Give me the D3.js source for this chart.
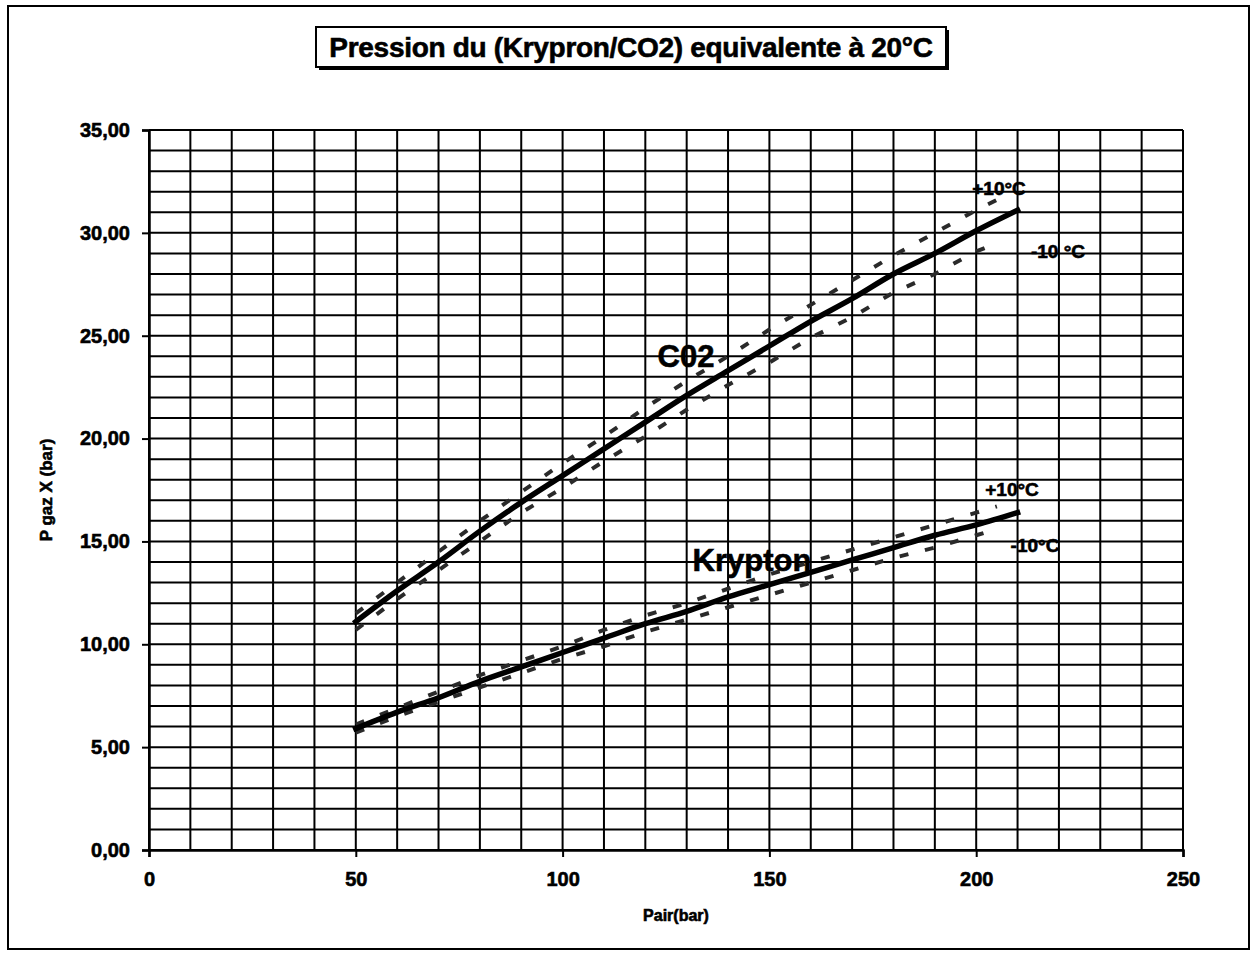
<!DOCTYPE html>
<html><head><meta charset="utf-8">
<script src="https://cdn.jsdelivr.net/npm/d3@7/dist/d3.min.js"></script>
<style>
body{margin:0;background:#fff}
text{font-family:Arial,"Liberation Sans",sans-serif;font-weight:bold;fill:#000;stroke:#000;stroke-width:0.6px}
</style>
</head><body>
<svg id="c" width="1251" height="958"></svg>
<script>
// ---- data ----
const pairX   = [50,60,70,80,90,100,110,120,130,140,150,160,170,180,190,200,210];
const co2     = [11.1,12.6,14.0,15.5,16.9,18.2,19.5,20.8,22.1,23.3,24.5,25.7,26.8,28.0,29.0,30.1,31.1];
const krypton = [5.9,6.7,7.4,8.2,8.9,9.6,10.3,11.0,11.6,12.3,12.9,13.5,14.1,14.7,15.3,15.8,16.4];
const bandX    = [50,60,70,80,90,100,110,120,130,140,150,160,170,180,190,200,205];
const co2Plus  = [11.5,13.0,14.5,16.0,17.4,18.8,20.1,21.5,22.8,24.0,25.3,26.5,27.7,28.9,30.0,31.1,31.6];
const co2Minus = [10.7,12.2,13.6,15.0,16.4,17.6,18.9,20.1,21.4,22.6,23.7,24.9,25.9,27.1,28.0,29.1,29.5];
const krPlus   = [6.1,6.9,7.7,8.5,9.2,9.9,10.7,11.4,12.0,12.7,13.4,14.0,14.6,15.2,15.8,16.4,16.7];
const krMinus  = [5.7,6.5,7.2,7.9,8.6,9.3,9.9,10.6,11.2,11.8,12.4,13.0,13.6,14.2,14.7,15.3,15.6];
const xTicks = [0,50,100,150,200,250];
const yTicks = [0,5,10,15,20,25,30,35];
const yTickLabels = ["0,00","5,00","10,00","15,00","20,00","25,00","30,00","35,00"];
const titleText = "Pression du (Krypron/CO2) equivalente à 20°C";

// ---- drawing ----
const svg = d3.select("#c");
const x = d3.scaleLinear().domain([0,250]).range([149,1183]);
const y = d3.scaleLinear().domain([0,35]).range([850,130]);

// outer frame
svg.append("rect").attr("x",8).attr("y",6).attr("width",1241).attr("height",943)
  .attr("fill","none").attr("stroke","#000").attr("stroke-width",2);

// title box with shadow
const tb = {x:316,y:27,w:630,h:40};
svg.append("rect").attr("x",tb.x+3).attr("y",tb.y+3).attr("width",tb.w).attr("height",tb.h).attr("fill","#000");
svg.append("rect").attr("x",tb.x).attr("y",tb.y).attr("width",tb.w).attr("height",tb.h)
  .attr("fill","#fff").attr("stroke","#000").attr("stroke-width",2);
svg.append("text").attr("x",tb.x+tb.w/2).attr("y",tb.y+30).attr("text-anchor","middle")
  .style("font-size","28px").style("letter-spacing","-0.3px").text(titleText);

// grid
const g = svg.append("g");
g.selectAll("line.h").data(d3.range(0,36,1)).join("line")
  .attr("x1",x(0)).attr("x2",x(250)).attr("y1",d=>y(d)).attr("y2",d=>y(d))
  .attr("stroke","#000").attr("stroke-width",2);
g.selectAll("line.v").data(d3.range(0,251,10)).join("line")
  .attr("y1",y(0)).attr("y2",y(35)).attr("x1",d=>x(d)).attr("x2",d=>x(d))
  .attr("stroke","#000").attr("stroke-width",2);

// axes
const ax = svg.append("g").attr("transform",`translate(0,${y(0)})`)
  .call(d3.axisBottom(x).tickValues(xTicks).tickSize(7).tickPadding(15).tickFormat(d=>String(d)));
const ay = svg.append("g").attr("transform",`translate(${x(0)},0)`)
  .call(d3.axisLeft(y).tickValues(yTicks).tickSize(7).tickPadding(12).tickFormat((d,i)=>yTickLabels[i]));
[ax,ay].forEach(a=>{
  a.select(".domain").attr("stroke","#000").attr("stroke-width",2.5);
  a.selectAll(".tick line").attr("stroke","#000").attr("stroke-width",2);
  a.selectAll(".tick text").style("font-size","20px").style("font-family","Arial,'Liberation Sans',sans-serif")
    .style("font-weight","bold").attr("fill","#000").attr("stroke","#000").attr("stroke-width",0.6);
});

// dashed +/-10 lines
const lineB = d3.line().x((d,i)=>x(bandX[i])).y(d=>y(d));
[co2Plus,co2Minus,krPlus,krMinus].forEach(arr=>{
  svg.append("path").attr("d",lineB(arr)).attr("fill","none")
    .attr("stroke","#2a2a2a").attr("stroke-width",4).attr("stroke-dasharray","9,17");
});

// main lines
const lineM = d3.line().x((d,i)=>x(pairX[i])).y(d=>y(d)).curve(d3.curveMonotoneX);
[co2,krypton].forEach(arr=>{
  svg.append("path").attr("d",lineM(arr)).attr("fill","none")
    .attr("stroke","#000").attr("stroke-width",5.5).attr("stroke-linecap","square");
});

// labels
svg.append("text").attr("x",686).attr("y",367).attr("text-anchor","middle").style("font-size","31px").text("C02");
svg.append("text").attr("x",752).attr("y",571).attr("text-anchor","middle").style("font-size","31px").text("Krypton");
svg.append("text").attr("x",999).attr("y",195).attr("text-anchor","middle").style("font-size","19px").text("+10°C");
svg.append("text").attr("x",1058).attr("y",258).attr("text-anchor","middle").style("font-size","19px").text("-10 °C");
svg.append("text").attr("x",1012).attr("y",496).attr("text-anchor","middle").style("font-size","19px").text("+10°C");
svg.append("text").attr("x",1035).attr("y",552).attr("text-anchor","middle").style("font-size","19px").text("-10°C");

// axis titles
svg.append("text").attr("x",676).attr("y",921).attr("text-anchor","middle").style("font-size","16px").text("Pair(bar)");
svg.append("text").attr("transform","translate(52,490) rotate(-90)").attr("text-anchor","middle").style("font-size","17px").text("P gaz X (bar)");
</script>
</body></html>
